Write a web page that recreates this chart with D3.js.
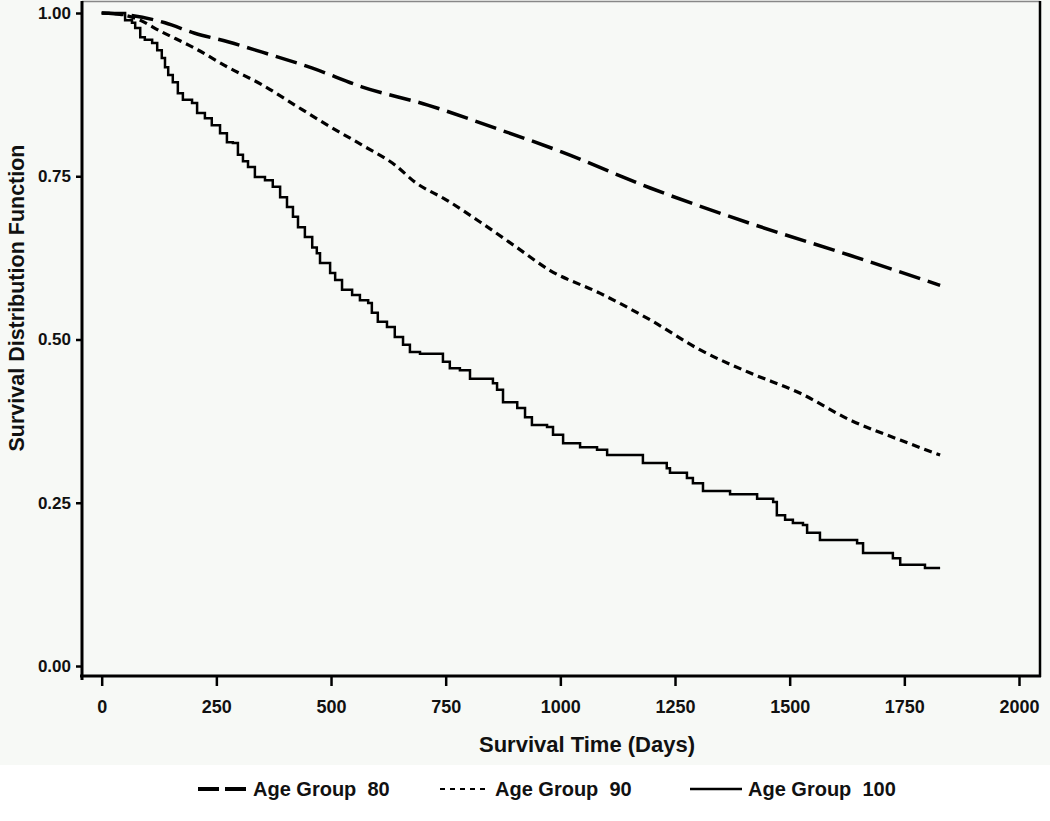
<!DOCTYPE html>
<html>
<head>
<meta charset="utf-8">
<script src="https://cdn.jsdelivr.net/npm/d3@7.9.0/dist/d3.min.js"></script>
<style>
  body { margin: 0; background: #fff; }
  svg { display: block; font-family: "Liberation Sans", Arial, sans-serif; }
  .axis path, .axis line { stroke: #000; }
  .axis text { fill: #111; font-weight: bold; }
  .keep { white-space: pre; }
</style>
</head>
<body>
<svg id="chart" width="1050" height="821"></svg>
<script>
// Kaplan-Meier style estimates: [day, survival]
const group80 = [
  [0, 1.0], [57, 0.997], [138, 0.985], [203, 0.969], [275, 0.956], [350, 0.94],
  [458, 0.916], [567, 0.887], [711, 0.859], [857, 0.824], [1004, 0.787],
  [1196, 0.732], [1413, 0.678], [1631, 0.629], [1828, 0.583]
];
const group90 = [
  [0, 1.0], [40, 0.998], [73, 0.992], [131, 0.971], [203, 0.946], [275, 0.917],
  [350, 0.89], [421, 0.859], [493, 0.828], [567, 0.798], [640, 0.767], [683, 0.741],
  [751, 0.714], [825, 0.68], [901, 0.643], [977, 0.606], [1086, 0.571], [1196, 0.53],
  [1305, 0.484], [1413, 0.449], [1522, 0.418], [1631, 0.377], [1741, 0.346], [1828, 0.323]
];
const group100 = [
  [0, 1.0], [51, 0.989], [66, 0.985], [73, 0.977], [84, 0.963], [94, 0.959],
  [110, 0.954], [121, 0.943], [131, 0.931], [138, 0.917], [145, 0.905], [155, 0.894],
  [166, 0.877], [177, 0.867], [197, 0.862], [208, 0.847], [225, 0.839], [240, 0.828],
  [258, 0.816], [273, 0.802], [286, 0.801], [297, 0.783], [308, 0.773], [319, 0.764],
  [334, 0.749], [356, 0.744], [373, 0.734], [389, 0.718], [404, 0.703], [417, 0.688],
  [428, 0.672], [443, 0.657], [459, 0.641], [469, 0.632], [476, 0.617], [498, 0.602],
  [509, 0.591], [524, 0.576], [546, 0.568], [563, 0.56], [581, 0.556], [589, 0.541],
  [602, 0.527], [622, 0.519], [639, 0.504], [657, 0.492], [672, 0.481], [694, 0.478],
  [744, 0.466], [759, 0.456], [781, 0.453], [803, 0.44], [853, 0.433], [862, 0.423],
  [875, 0.404], [906, 0.395], [923, 0.381], [938, 0.369], [971, 0.366], [984, 0.354],
  [1006, 0.341], [1043, 0.335], [1080, 0.331], [1102, 0.323], [1180, 0.311],
  [1232, 0.303], [1239, 0.296], [1276, 0.288], [1289, 0.28], [1311, 0.268],
  [1370, 0.263], [1429, 0.256], [1464, 0.251], [1472, 0.231], [1490, 0.224],
  [1507, 0.219], [1529, 0.216], [1538, 0.204], [1566, 0.193], [1647, 0.188],
  [1660, 0.173], [1725, 0.165], [1741, 0.155], [1795, 0.15], [1828, 0.15]
];

const xTicks = [0, 250, 500, 750, 1000, 1250, 1500, 1750, 2000];
const yTicks = [0, 0.25, 0.5, 0.75, 1.0];
const legendLabels = ['Age Group  80', 'Age Group  90', 'Age Group  100'];

const svg = d3.select('#chart');

// light panel behind the plot
svg.append('rect').attr('x', 0).attr('y', 0).attr('width', 1050).attr('height', 765)
  .attr('fill', '#f7f9f6');

const x = d3.scaleLinear().domain([0, 2000]).range([101.7, 1019]);
const y = d3.scaleLinear().domain([0, 1]).range([666, 13]);

// frame
svg.append('line').attr('x1', 82).attr('x2', 1040).attr('y1', 1.5).attr('y2', 1.5)
  .attr('stroke', '#888').attr('stroke-width', 1.5);
svg.append('line').attr('x1', 1040).attr('x2', 1040).attr('y1', 1).attr('y2', 677)
  .attr('stroke', '#000').attr('stroke-width', 2.5);

const yAxis = svg.append('g').attr('class', 'axis')
  .attr('transform', 'translate(82,0)')
  .call(d3.axisLeft(y).tickValues(yTicks).tickFormat(d3.format('.2f')).tickSize(6).tickPadding(5));
yAxis.select('.domain').remove();
yAxis.selectAll('line').attr('stroke-width', 2.5);
yAxis.selectAll('text').attr('font-size', 17);
svg.append('line').attr('x1', 82).attr('x2', 82).attr('y1', 1).attr('y2', 680)
  .attr('stroke', '#000').attr('stroke-width', 3);

const xAxis = svg.append('g').attr('class', 'axis')
  .attr('transform', 'translate(0,676)')
  .call(d3.axisBottom(x).tickValues(xTicks).tickFormat(d3.format('d')).tickSize(10).tickPadding(14));
xAxis.select('.domain').remove();
xAxis.selectAll('line').attr('stroke-width', 2.5);
xAxis.selectAll('text').attr('font-size', 18);
svg.append('line').attr('x1', 80).attr('x2', 1041).attr('y1', 676).attr('y2', 676)
  .attr('stroke', '#000').attr('stroke-width', 3);

// axis titles
svg.append('text').attr('x', 587).attr('y', 752).attr('text-anchor', 'middle')
  .attr('font-size', 22).attr('font-weight', 600).attr('fill', '#111')
  .text('Survival Time (Days)');
svg.append('text').attr('transform', 'translate(24,298) rotate(-90)')
  .attr('text-anchor', 'middle').attr('font-size', 21.5).attr('font-weight', 600)
  .attr('fill', '#111').text('Survival Distribution Function');

// curves
const styles = [
  { data: group80, dash: '22,8', width: 3.5 },
  { data: group90, dash: '8,5', width: 3.2 },
  { data: group100, dash: null, width: 2.5 }
];

const smooth = d3.line().x(d => x(d[0])).y(d => y(d[1])).curve(d3.curveMonotoneX);
const steps = d3.line().x(d => x(d[0])).y(d => y(d[1])).curve(d3.curveStepAfter);

styles.forEach((s, i) => {
  svg.append('path')
    .attr('d', i === 2 ? steps(s.data) : smooth(s.data))
    .attr('fill', 'none')
    .attr('stroke', '#000')
    .attr('stroke-width', s.width)
    .attr('stroke-dasharray', s.dash);
});

// legend
const legendX = [198, 440, 690];
legendLabels.forEach((lab, i) => {
  const g = svg.append('g').attr('transform', `translate(${legendX[i]},789)`);
  g.append('line').attr('x1', 0).attr('x2', i === 2 ? 52 : 48).attr('y1', 0).attr('y2', 0)
    .attr('stroke', '#000').attr('stroke-width', i === 0 ? 4 : i === 1 ? 2 : 2.5)
    .attr('stroke-dasharray', i === 0 ? '21,6' : i === 1 ? '5,5' : null);
  g.append('text').attr('class', 'keep').attr('x', i === 2 ? 58 : 55).attr('y', 7)
    .attr('font-size', 20).attr('font-weight', 'bold').attr('fill', '#111').text(lab);
});
</script>
</body>
</html>
